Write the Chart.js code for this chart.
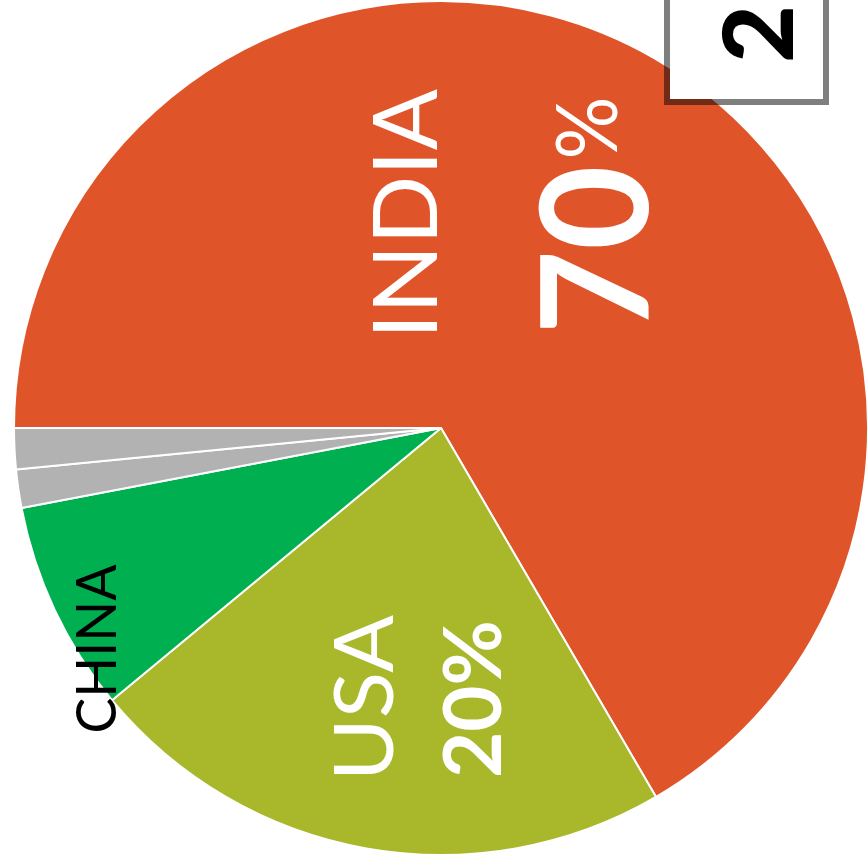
<!DOCTYPE html>
<html>
<head>
<meta charset="utf-8">
<style>
  html, body { margin: 0; padding: 0; background: #fff; overflow: hidden; }
  #wrap { position: relative; width: 868px; height: 859px; }
</style>
<script src="https://cdn.jsdelivr.net/npm/chart.js@4.4.1/dist/chart.umd.min.js"></script>
</head>
<body>
<div id="wrap"><canvas id="pie" width="868" height="859"></canvas></div>
<script>
// shares
const countries = ["INDIA", "USA", "CHINA", "OTHER 1", "OTHER 2"];
const shares = [66.6, 22.4, 8.0, 1.45, 1.55];
const colors = ["#e0542a", "#a8b82a", "#00af50", "#b2b2b2", "#b2b2b2"];
const shareLabels = ["70%", "20%"];

// text placed relative to the pie centre (fractions of radius), drawn rotated -90deg
// dx = baseline offset, dy = centre of text along the reading direction
const textMarks = [
  { text: "INDIA", dx: -4, dy: -214, cap: 64, len: 250, weight: "400", color: "#fff" },
  { text: "70", dx: 207, dy: -250 + 72, cap: 108, len: 169, weight: "700", color: "#fff" },
  { text: "%", dx: 176, dy: -300, cap: 61, len: 63, weight: "400", color: "#fff" },
  { text: "USA", dx: -48, dy: 270, cap: 58, len: 166, weight: "400", color: "#fff" },
  { text: "20%", dx: 60, dy: 271, cap: 58, len: 158, weight: "700", color: "#fff" },
  { text: "CHINA", dx: -325, dy: 221, cap: 41, len: 169, weight: "400", color: "#000" }
];

function drawRotated(ctx, m, x, y, s) {
  const size = m.cap * s / 0.72;
  ctx.save();
  ctx.font = m.weight + " " + size + "px Lato";
  const w = ctx.measureText(m.text).width;
  ctx.translate(x, y);
  ctx.rotate(-Math.PI / 2);
  ctx.scale((m.len * s) / w, 1);
  ctx.fillStyle = m.color;
  ctx.textAlign = "center";
  ctx.textBaseline = "alphabetic";
  ctx.fillText(m.text, 0, 0);
  ctx.restore();
}

const labelPlugin = {
  id: "sliceText",
  afterDatasetsDraw(chart) {
    const ctx = chart.ctx;
    const arc = chart.getDatasetMeta(0).data[0];
    const r = arc.outerRadius;
    const s = r / 427;
    textMarks.forEach(m => {
      drawRotated(ctx, m, arc.x + m.dx * s, arc.y + m.dy * s, s);
    });

    // the numbered tag in the top right corner
    ctx.save();
    ctx.fillStyle = "#fff";
    ctx.fillRect(670, -10, 153, 109);
    ctx.strokeStyle = "rgba(0,0,0,0.5)";
    ctx.lineWidth = 6;
    ctx.strokeRect(667, -10, 159, 112);
    ctx.restore();
    drawRotated(ctx, { text: "2", cap: 70, len: 58, weight: "900", color: "#000" }, 793, 34, 1);
  }
};

new Chart(document.getElementById("pie"), {
  type: "pie",
  data: {
    labels: countries,
    datasets: [{
      data: shares,
      backgroundColor: colors,
      borderColor: "#ffffff",
      borderWidth: 2,
      clip: false
    }]
  },
  options: {
    responsive: false,
    animation: false,
    rotation: 270,
    radius: 427,
    layout: { padding: { left: 14, right: 0, top: 0, bottom: 3 } },
    plugins: {
      legend: { display: false },
      tooltip: { enabled: false }
    }
  },
  plugins: [labelPlugin]
});
</script>
</body>
</html>
